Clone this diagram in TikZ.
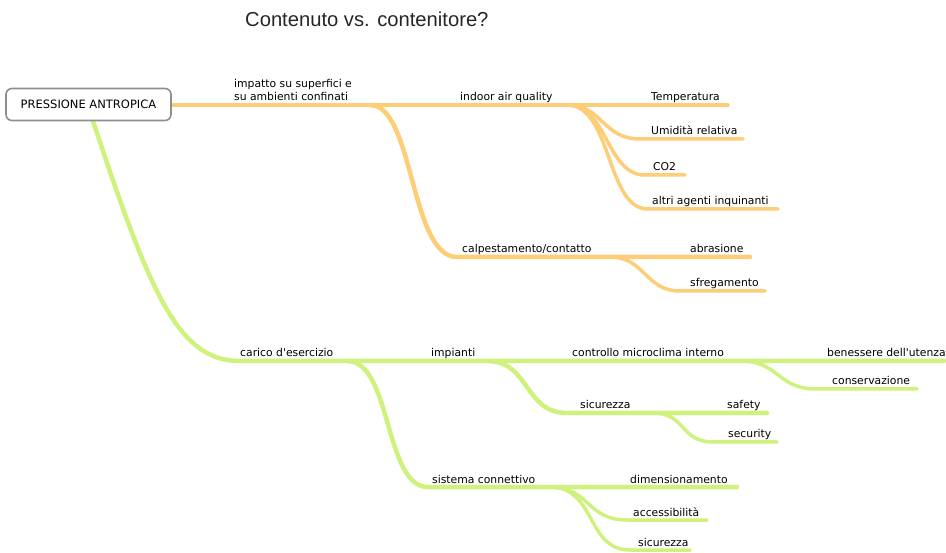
\documentclass[tikz,border=0pt]{standalone}
\usepackage{fontspec}
\newfontfamily\lblfont{DejaVu Sans}
\newfontfamily\ttlfont{Liberation Sans}
\definecolor{orangebr}{HTML}{FDCD78}
\definecolor{greenbr}{HTML}{CFF27E}
\definecolor{boxgray}{HTML}{8E8E8E}
\begin{document}
\begin{tikzpicture}[x=1pt,y=-1pt,
  lbl/.style={anchor=base west,inner sep=0pt,font=\lblfont\fontsize{10.8}{13.5}\selectfont},
  obr/.style={draw=orangebr,line cap=round,line width=4.5pt},
  oleaf/.style={draw=orangebr,line cap=round,line width=3.5pt},
  gbr/.style={draw=greenbr,line cap=round,line width=4.5pt},
  gleaf/.style={draw=greenbr,line cap=round,line width=3.5pt},
  rootbox/.style={draw=boxgray,line width=1.6pt,rounded corners=6pt,fill=white,
    minimum width=165pt,minimum height=32pt,font=\lblfont\fontsize{11.5}{13}\selectfont}
]
\useasboundingbox (0,0) rectangle (946,553);

% title
\node[anchor=base west,inner sep=0pt,text=black!85,font=\ttlfont\fontsize{20.2}{23}\selectfont]
  (title) at (245,27) {Contenuto vs. contenitore?};

% branch points and underline ends
\coordinate (rootE) at (170,105);
\coordinate (rootS) at (93,121);
\coordinate (forkCal) at (370,105);
\coordinate (iaq) at (567,105);
\coordinate (tempE) at (728,105);
\coordinate (umiS) at (640,139);  \coordinate (umiE) at (743,139);
\coordinate (co2S) at (645,175);  \coordinate (co2E) at (685,175);
\coordinate (altS) at (648,209);  \coordinate (altE) at (778,209);
\coordinate (calS) at (457,257);  \coordinate (forkSfr) at (610,257);
\coordinate (abrE) at (750,257);
\coordinate (sfrS) at (680,291);  \coordinate (sfrE) at (765,291);

\coordinate (carS) at (240,361);  \coordinate (forkSis) at (347,361);
\coordinate (forkSic) at (487,361); \coordinate (forkCons) at (740,361);
\coordinate (benE) at (944,361);
\coordinate (consS) at (817,389); \coordinate (consE) at (917,389);
\coordinate (sicS) at (567,413);  \coordinate (forkSec) at (653,413);
\coordinate (safE) at (767,413);
\coordinate (secS) at (713,442);  \coordinate (secE) at (777,442);
\coordinate (sisS) at (428,487);  \coordinate (sisF) at (550,487);
\coordinate (dimE) at (737,487);
\coordinate (accS) at (627,520);  \coordinate (accE) at (707,520);
\coordinate (sc2S) at (630,550);  \coordinate (sc2E) at (690,550);

% orange branch: impatto su superfici
\draw[obr] (rootE) -- (iaq);
\draw[oleaf] (iaq) -- (tempE);
\draw[oleaf] (iaq) .. controls (603,105) and (602,139) .. (umiS) -- (umiE);
\draw[oleaf] (iaq) .. controls (608,105) and (606,175) .. (co2S) -- (co2E);
\draw[oleaf] (iaq) .. controls (612,105) and (606,209) .. (altS) -- (altE);
\draw[obr] (forkCal) .. controls (414,105) and (410,257) .. (calS) -- (abrE);
\draw[oleaf] (forkSfr) .. controls (645,257) and (645,291) .. (sfrS) -- (sfrE);

% green branch: carico d'esercizio
\draw[gbr] (rootS) .. controls (152,300) and (180,361) .. (carS) -- (benE);
\draw[gleaf] (forkCons) .. controls (780,361) and (776,389) .. (consS) -- (consE);
\draw[gbr] (forkSic) .. controls (530,361) and (524,413) .. (sicS) -- (safE);
\draw[gleaf] (forkSec) .. controls (686,413) and (680,442) .. (secS) -- (secE);
\draw[gbr] (forkSis) .. controls (392,361) and (384,487) .. (sisS) -- (dimE);
\draw[gleaf] (sisF) .. controls (590,487) and (586,520) .. (accS) -- (accE);
\draw[gleaf] (sisF) .. controls (596,487) and (586,550) .. (sc2S) -- (sc2E);

% root topic
\node[rootbox] (root) at (88.5,104.5) {PRESSIONE ANTROPICA};

% labels
\node[lbl] (impatto) at (234,101) {\begin{tabular}[b]{@{}l@{}}impatto su superfici e\\su ambienti confinati\end{tabular}};
\node[lbl] (indoor) at (460,101) {indoor air quality};
\node[lbl] (temp) at (651,101) {Temperatura};
\node[lbl] (umid) at (651,135) {Umidità relativa};
\node[lbl] (co2) at (653,171) {CO2};
\node[lbl] (altri) at (652,205) {altri agenti inquinanti};
\node[lbl] (calp) at (462,253) {calpestamento/contatto};
\node[lbl] (abras) at (690,253) {abrasione};
\node[lbl] (sfreg) at (690,287) {sfregamento};

\node[lbl] (carico) at (240,357) {carico d'esercizio};
\node[lbl] (impianti) at (431,357) {impianti};
\node[lbl] (contr) at (572,357) {controllo microclima interno};
\node[lbl] (benes) at (827,357) {benessere dell'utenza};
\node[lbl] (conserv) at (832,385) {conservazione};
\node[lbl] (sicur) at (580,409) {sicurezza};
\node[lbl] (safety) at (727,409) {safety};
\node[lbl] (security) at (728,438) {security};
\node[lbl] (sistema) at (432,483) {sistema connettivo};
\node[lbl] (dimens) at (630,483) {dimensionamento};
\node[lbl] (access) at (633,516) {accessibilità};
\node[lbl] (sicur2) at (638,546) {sicurezza};
\end{tikzpicture}
\end{document}
